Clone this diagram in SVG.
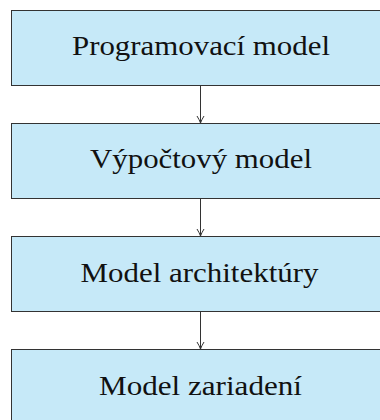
<svg xmlns="http://www.w3.org/2000/svg" width="380" height="420" viewBox="0 0 380 420">
<style>
.box{fill:#c6e9f8;stroke:#333;stroke-width:1}
.lbl{font-family:"Liberation Serif","DejaVu Serif",serif;font-size:27px;fill:#111;text-anchor:middle}
.edge{stroke:#333;stroke-width:1;fill:none}
</style>
<defs>
<marker id="ah" viewBox="0 0 10 10" refX="9" refY="5" markerWidth="10" markerHeight="10" markerUnits="userSpaceOnUse" orient="auto">
<path d="M2,1.5 Q6,4 9,5 Q6,6 2,8.5" fill="none" stroke="#333" stroke-width="1"/>
</marker>
</defs>
<g id="n1"><rect class="box" x="11.5" y="10.5" width="380" height="75"/><text class="lbl" x="201" y="54.5" textLength="258" lengthAdjust="spacingAndGlyphs">Programovací model</text></g>
<g id="n2"><rect class="box" x="11.5" y="123.5" width="380" height="75"/><text class="lbl" x="201" y="168" textLength="222" lengthAdjust="spacingAndGlyphs">Výpočtový model</text></g>
<g id="n3"><rect class="box" x="11.5" y="236.5" width="380" height="75"/><text class="lbl" x="199.5" y="281.5" textLength="238" lengthAdjust="spacingAndGlyphs">Model architektúry</text></g>
<g id="n4"><rect class="box" x="11.5" y="349.5" width="380" height="75"/><text class="lbl" x="200.5" y="395" textLength="203" lengthAdjust="spacingAndGlyphs">Model zariadení</text></g>
<g id="edges">
<line class="edge" x1="200.5" y1="85.5" x2="200.5" y2="123" marker-end="url(#ah)"/>
<line class="edge" x1="200.5" y1="198.5" x2="200.5" y2="236" marker-end="url(#ah)"/>
<line class="edge" x1="200.5" y1="311.5" x2="200.5" y2="349" marker-end="url(#ah)"/>
</g>
</svg>
